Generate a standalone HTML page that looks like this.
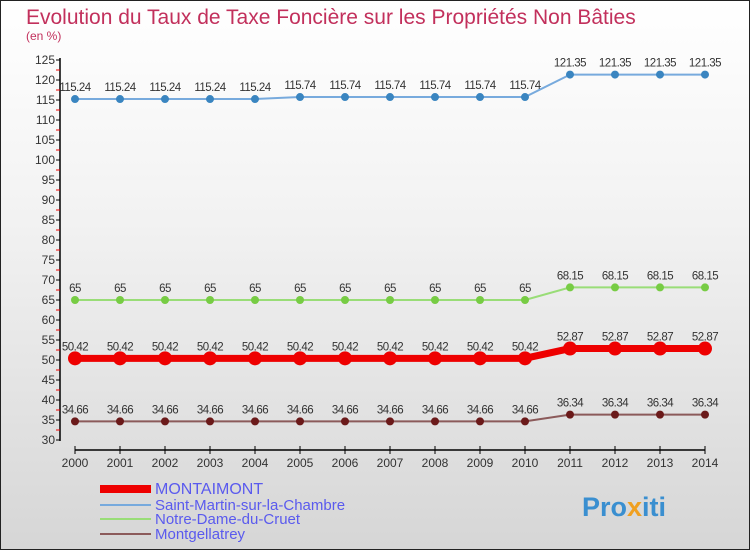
<!DOCTYPE html>
<html><head><meta charset="utf-8"><style>
html,body{margin:0;padding:0}
body{width:750px;height:550px;overflow:hidden;font-family:"Liberation Sans",sans-serif}
#frame{position:absolute;left:0;top:0;width:748px;height:548px;border:1px solid #222;background:linear-gradient(#ffffff,#f2f2f2 40%,#d6d6d6)}
</style></head><body>
<div id="frame">
<svg id="chart" width="750" height="550" style="position:absolute;left:-1px;top:-1px">
<text x="26" y="24" font-size="21" fill="#c2305c">Evolution du Taux de Taxe Foncière sur les Propriétés Non Bâties</text>
<text x="26" y="40" font-size="12" fill="#c2305c">(en %)</text>
<g id="axes"></g><g id="series"></g><g id="legend"></g>
<text x="582" y="516" font-size="27" font-weight="bold" fill="#3a8fd0">Pro<tspan fill="#f0a020">x</tspan>iti</text>
</svg></div>
<script>
const years=[2000,2001,2002,2003,2004,2005,2006,2007,2008,2009,2010,2011,2012,2013,2014];
const yTicks=[30,35,40,45,50,55,60,65,70,75,80,85,90,95,100,105,110,115,120,125];
const seriesNames=["MONTAIMONT","Saint-Martin-sur-la-Chambre","Notre-Dame-du-Cruet","Montgellatrey"];
const montaimont=[50.42,50.42,50.42,50.42,50.42,50.42,50.42,50.42,50.42,50.42,50.42,52.87,52.87,52.87,52.87];
const saintMartin=[115.24,115.24,115.24,115.24,115.24,115.74,115.74,115.74,115.74,115.74,115.74,121.35,121.35,121.35,121.35];
const notreDame=[65,65,65,65,65,65,65,65,65,65,65,68.15,68.15,68.15,68.15];
const montgellatrey=[34.66,34.66,34.66,34.66,34.66,34.66,34.66,34.66,34.66,34.66,34.66,36.34,36.34,36.34,36.34];
const NS="http://www.w3.org/2000/svg";
const xS=i=>75+i*45;
const yS=v=>60+(125-v)*4;
function mk(t,a,p){const e=document.createElementNS(NS,t);for(const k in a)e.setAttribute(k,a[k]);p.appendChild(e);return e;}
const ax=document.getElementById('axes');
let l=mk('line',{x1:60,y1:58,x2:60,y2:441,stroke:'#000','stroke-width':1.5},ax);


yTicks.forEach(v=>{
 mk('line',{x1:56,y1:yS(v),x2:60,y2:yS(v),stroke:'#000'},ax);
 if(v<125)mk('line',{x1:56,y1:yS(v+2.5),x2:60,y2:yS(v+2.5),stroke:'#e00'},ax);
 const t=mk('text',{x:55,y:yS(v)+4,'font-size':12,'text-anchor':'end',fill:'#333'},ax);t.textContent=v;
 
 
});
l=mk('line',{x1:75,y1:450,x2:705,y2:450,stroke:'#000','stroke-width':1.5},ax);


years.forEach((y,i)=>{
 mk('line',{x1:xS(i),y1:446,x2:xS(i),y2:454,stroke:'#000'},ax);
 const t=mk('text',{x:xS(i),y:467,'font-size':12,'text-anchor':'middle',fill:'#333'},ax);t.textContent=y;
 
 
});
const sg=document.getElementById('series');
function draw(vals,color,w,r,ptColor,name,dec){
 const g=mk('g',{},sg);
 
 
 mk('polyline',{points:vals.map((v,i)=>xS(i)+','+yS(v)).join(' '),fill:'none',stroke:color,'stroke-width':w},g);
 vals.forEach((v,i)=>{
  const c=mk('circle',{cx:xS(i),cy:yS(v),r:r,fill:ptColor},g);
  
  
  const t=mk('text',{x:xS(i),y:yS(v)-8,'font-size':11.5,'text-anchor':'middle',fill:'#333','letter-spacing':'-0.5'},g);
  t.textContent=dec?v.toFixed(2):String(v);
  
  
 });
}
draw(montgellatrey,'#8b5a5a',2,4,'#6b1a1a','series-montgellatrey',true);
draw(notreDame,'#99dd77',2,4,'#77cc44','series-notre-dame-du-cruet',false);
draw(montaimont,'#ee0000',7,7,'#ee0000','series-montaimont',true);
draw(saintMartin,'#77aadd',2,4,'#3a85c0','series-saint-martin',true);
const lg=document.getElementById('legend');
const lc=['#ee0000','#77aadd','#99dd77','#8b5a5a'],lw=[8,2,2,2],ly=[493,509,523,538];
seriesNames.forEach((n,i)=>{
 const g=mk('g',{},lg);
 
 
 mk('line',{x1:100,y1:ly[i]-4,x2:151,y2:ly[i]-4,stroke:lc[i],'stroke-width':lw[i]},g);
 const t=mk('text',{x:155,y:ly[i]+1,'font-size':i==0?16:15,fill:'#5a5aee'},g);t.textContent=n;
});
</script>
</body></html>
